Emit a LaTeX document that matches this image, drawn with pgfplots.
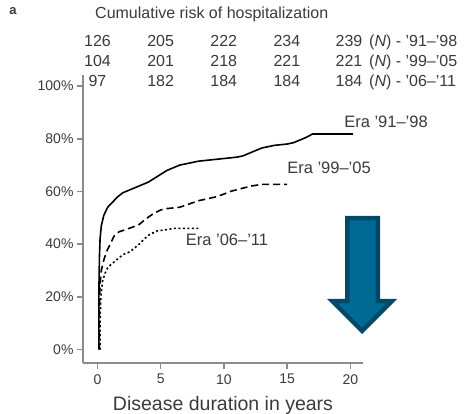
\documentclass[border=0pt]{standalone}
\usepackage{pgfplots}
\pgfplotsset{compat=1.18}
\usepackage{fontspec}
\setmainfont{Liberation Sans}
\definecolor{txt}{HTML}{3A3A3A}
\definecolor{axgray}{HTML}{8C8C8C}
\definecolor{arrowdark}{HTML}{004A68}
\definecolor{arrowfill}{HTML}{006A94}
\newcommand{\fs}[1]{\fontsize{#1}{#1}\selectfont}

\begin{document}
\begin{tikzpicture}[x=1pt,y=1pt]
\useasboundingbox (0,0) rectangle (473,414);
\begin{axis}[
  at={(83pt,51.3pt)}, anchor=south west,
  scale only axis, width=280pt, height=287.7pt,
  xmin=-1.15, xmax=21, ymin=-5, ymax=104.2,
  axis x line=bottom, axis y line=left,
  axis line style={axgray, line width=1.8pt, -},
  xtick={0,5,10,15,20}, ytick={0,20,40,60,80,100},
  tick align=outside, major tick length=6pt,
  tick style={axgray, line width=1.5pt},
  /pgf/number format/assume math mode=true,
  yticklabel={\pgfmathprintnumber{\tick}\%},
  ticklabel style={font=\fs{14}, text=txt},
  xticklabel style={yshift=-2pt},
  xlabel={Disease duration in years},
  xlabel style={font=\fs{19.5}, text=txt, yshift=-5pt},
  clip=false,
]
% Era '91-'98
\addplot[black, line width=1.6pt, line join=round] coordinates {
  (0.1,0) (0.1,20) (0.15,35) (0.2,42) (0.3,47) (0.5,51) (0.8,54)
  (1.2,56) (1.6,58) (2.0,59.5) (2.5,60.5) (3,61.5) (3.5,62.5) (4,63.5)
  (4.5,65) (5,66.5) (5.5,68) (6,69) (6.5,70) (7,70.5) (7.5,71) (8,71.5)
  (9,72) (10,72.5) (11,73) (11.5,73.5) (12,74.5) (12.5,75.5) (13,76.5)
  (13.5,77) (14,77.5) (15,78) (15.5,78.5) (16,79.5) (16.5,80.5) (17,81.8)
  (20.2,81.8)
};
% Era '99-'05
\addplot[black, line width=1.6pt, dash pattern=on 7pt off 4pt] coordinates {
  (0.15,0) (0.15,15) (0.2,25) (0.3,30) (0.5,34) (0.7,37) (1.0,40)
  (1.3,43) (1.7,44.7) (2.2,45.5) (2.8,46.5) (3.3,47.5) (3.8,49.5) (4.4,51.5)
  (5,53) (5.5,53.5) (6.5,54) (7.1,55) (8,56.5) (8.5,57) (9.4,58) (10,59)
  (10.5,60) (11.3,61) (12.1,62) (13,62.7) (15,62.7)
};
% Era '06-'11
\addplot[black, line width=1.6pt, dash pattern=on 2pt off 2.5pt] coordinates {
  (0.2,0) (0.2,10) (0.25,18) (0.3,22) (0.4,26) (0.6,29) (0.8,31)
  (1.0,32) (1.5,34) (2.0,36) (2.5,37) (2.8,38) (3.3,40) (3.7,42) (4.1,43.6)
  (4.7,45) (5.5,45.5) (6,46) (8,46)
};
\end{axis}

% panel letter and title
\node[anchor=center, font=\fs{13}\bfseries, text=txt] at (13,403) {a};
\node[anchor=base west, inner sep=0, font=\fs{16}, text=txt] at (95,395.5) {Cumulative risk of hospitalization};

% numbers at risk
\begin{scope}[every node/.style={anchor=base, inner sep=0, font=\fs{16}, text=txt}]
\node at (97.5,367.2) {126}; \node at (160.6,367.2) {205}; \node at (223.7,367.2) {222};
\node at (286.9,367.2) {234}; \node at (349,367.2) {239};
\node at (97.5,347.2) {104}; \node at (160.6,347.2) {201}; \node at (223.7,347.2) {218};
\node at (286.9,347.2) {221}; \node at (349,347.2) {221};
\node at (97.5,327.2) {97}; \node at (160.6,327.2) {182}; \node at (223.7,327.2) {184};
\node at (286.9,327.2) {184}; \node at (349,327.2) {184};
\end{scope}
\begin{scope}[every node/.style={anchor=base west, inner sep=0, font=\fs{16}, text=txt}]
\node at (369,367.2) {(\textit{N}) - '91--'98};
\node at (369,347.2) {(\textit{N}) - '99--'05};
\node at (369,327.2) {(\textit{N}) - '06--'11};
\end{scope}

% curve labels
\node[font=\fs{16.5}, text=txt, inner sep=0] at (386,292) {Era '91--'98};
\node[font=\fs{16.5}, text=txt, inner sep=0] at (329,246) {Era '99--'05};
\node[font=\fs{16.5}, text=txt, inner sep=0] at (227,174) {Era '06--'11};

% arrow
\fill[arrowdark] (345,198) -- (380,198) -- (380,115) -- (397,115) -- (362,80) -- (327,115) -- (345,115) -- cycle;
\fill[arrowfill] (349.5,193.5) -- (375.5,193.5) -- (375.5,110.5) -- (386,110.5) -- (362,86.4) -- (338,110.5) -- (349.5,110.5) -- cycle;
\end{tikzpicture}
\end{document}
